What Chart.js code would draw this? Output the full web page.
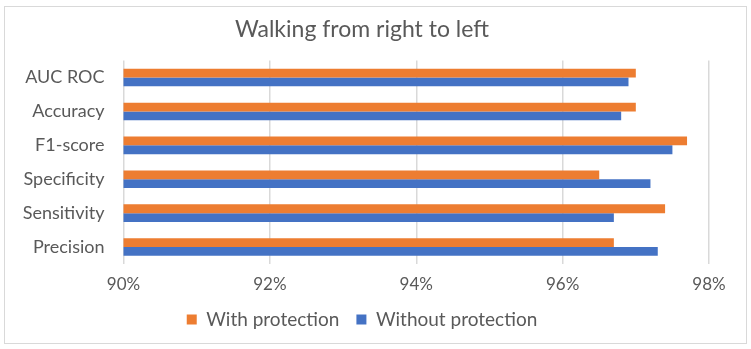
<!DOCTYPE html>
<html lang="en">
<head>
  <meta charset="UTF-8">
  <title>Walking from right to left</title>
  <script src="https://cdn.jsdelivr.net/npm/chart.js@4/dist/chart.umd.min.js"></script>
  <style>
    html, body { margin: 0; padding: 0; background: #fff; }
    #box {
      position: absolute;
      left: 4px;
      top: 6px;
      width: 741px;
      height: 336px;
      border: 1px solid #d9d9d9;
    }
  </style>
</head>
<body>
  <div id="box"><canvas id="chart" width="741" height="336"></canvas></div>
  <script>
    const metrics = ['AUC ROC', 'Accuracy', 'F1-score', 'Specificity', 'Sensitivity', 'Precision'];
    const withProtection = [97.0, 97.0, 97.7, 96.5, 97.4, 96.7];
    const withoutProtection = [96.9, 96.8, 97.5, 97.2, 96.7, 97.3];
    const xTicks = [90, 92, 94, 96, 98];

    const fontFamily = 'Lato, "Open Sans", sans-serif';
    const textColor = '#595959';

    new Chart(document.getElementById('chart'), {
      type: 'bar',
      data: {
        labels: metrics,
        datasets: [
          {
            label: 'With protection',
            data: withProtection,
            backgroundColor: '#ED7D31',
            categoryPercentage: 0.52,
            barPercentage: 1
          },
          {
            label: 'Without protection',
            data: withoutProtection,
            backgroundColor: '#4472C4',
            categoryPercentage: 0.52,
            barPercentage: 1
          }
        ]
      },
      options: {
        indexAxis: 'y',
        responsive: false,
        animation: false,
        layout: { padding: { left: 10, right: 37, top: 0, bottom: 4 } },
        plugins: {
          title: {
            display: true,
            text: 'Walking from right to left',
            color: textColor,
            font: { family: fontFamily, size: 23, weight: 'normal' },
            padding: { top: 9, bottom: 17 }
          },
          legend: {
            position: 'bottom',
            labels: {
              color: textColor,
              font: { family: fontFamily, size: 19 },
              boxWidth: 10,
              boxHeight: 10,
              padding: 17
            }
          },
          tooltip: { enabled: false }
        },
        scales: {
          x: {
            min: xTicks[0],
            max: xTicks[xTicks.length - 1],
            afterBuildTicks: (scale) => {
              scale.ticks = xTicks.map(v => ({ value: v }));
            },
            // axis box a touch tighter than the default so the plot reaches down like the original
            afterFit: (scale) => { scale.height = 29; },
            ticks: {
              color: textColor,
              font: { family: fontFamily, size: 17 },
              padding: 10,
              callback: (v) => v + '%'
            },
            grid: { color: '#d9d9d9', lineWidth: 1.5, drawTicks: false },
            border: { display: false }
          },
          y: {
            afterFit: (scale) => { scale.width = 108.5; },
            ticks: {
              color: textColor,
              font: { family: fontFamily, size: 18 },
              padding: 19
            },
            grid: { display: false, drawTicks: false },
            border: { display: false }
          }
        }
      }
    });
  </script>
</body>
</html>
